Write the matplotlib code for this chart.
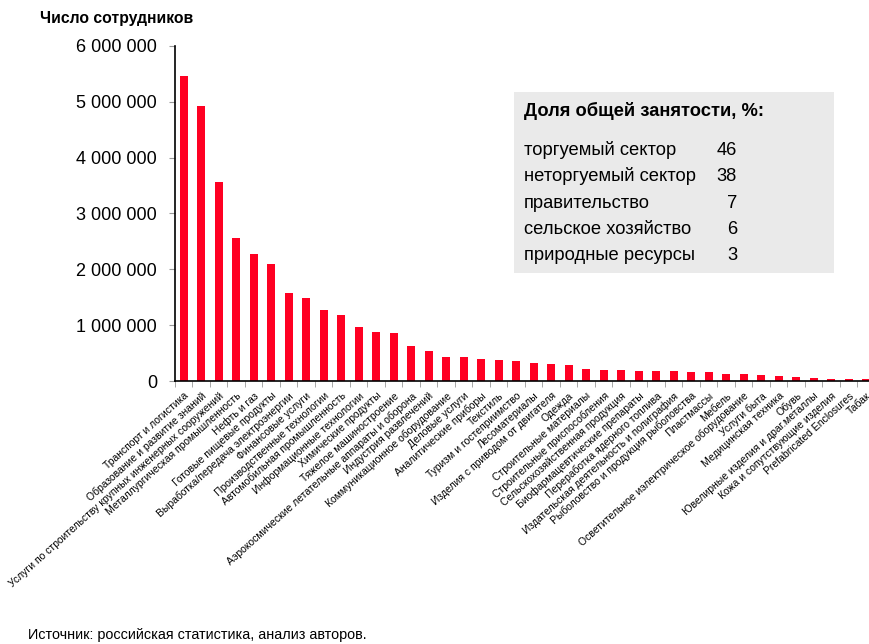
import matplotlib.pyplot as plt
from matplotlib.patches import Rectangle
from matplotlib.ticker import FuncFormatter

plt.rcParams['font.family'] = ['Liberation Sans', 'DejaVu Sans']

categories = [
    "Транспорт и логистика",
    "Образование и развитие знаний",
    "Услуги по строительству крупных инженерных сооружений",
    "Металлургическая промышленность",
    "Нефть и газ",
    "Готовые пищевые продукты",
    "Выработка/передача электроэнергии",
    "Финансовые услуги",
    "Производственные технологии",
    "Автомобильная промышленность",
    "Информационные технологии",
    "Химические продукты",
    "Тяжелое машиностроение",
    "Аэрокосмические летательные аппараты и оборона",
    "Индустрия развлечений",
    "Коммуникационное оборудование",
    "Деловые услуги",
    "Аналитические приборы",
    "Текстиль",
    "Туризм и гостеприимство",
    "Лесоматериалы",
    "Изделия с приводом от двигателя",
    "Одежда",
    "Строительные материалы",
    "Строительные приспособления",
    "Сельскохозяйственная продукция",
    "Биофармацевтические препараты",
    "Переработка ядерного топлива",
    "Издательская деятельность и полиграфия",
    "Рыболовство и продукция рыболовства",
    "Пластмассы",
    "Мебель",
    "Осветительное иэлектрическое оборудование",
    "Услуги быта",
    "Медицинская техника",
    "Обувь",
    "Ювелирные изделия и драг.металлы",
    "Кожа и сопутствующие изделия",
    "Prefabricated Enclosures",
    "Табак",
]

employees = [
    5470000, 4920000, 3570000, 2560000, 2280000, 2090000, 1570000, 1480000,
    1270000, 1180000, 960000, 885000, 855000, 620000, 530000, 430000,
    430000, 400000, 370000, 365000, 320000, 300000, 280000, 210000,
    200000, 190000, 185000, 180000, 175000, 170000, 155000, 125000,
    120000, 115000, 90000, 70000, 55000, 35000, 30000, 30000,
]

share_labels = ["торгуемый сектор", "неторгуемый сектор", "правительство",
                "сельское хозяйство", "природные ресурсы"]
share_values = [46, 38, 7, 6, 3]

fig = plt.figure(figsize=(8.7, 6.44), dpi=100)
ax = fig.add_axes([175 / 870, 1 - 381 / 644, 700 / 870, 335 / 644])

x = list(range(len(categories)))
ax.bar(x, employees, width=0.48, color='#FF0022')

ax.set_xlim(-0.5, 39.3)
ax.set_ylim(0, 6000000)
ax.set_yticks(range(0, 6000001, 1000000))
ax.yaxis.set_major_formatter(FuncFormatter(lambda v, p: f"{int(v):,}".replace(",", " ")))
ax.tick_params(axis='y', labelsize=13, length=4, color='#999999', pad=9)

ax.set_xticks(x)
ax.set_xticklabels(categories, rotation=42, ha='right', rotation_mode='anchor', fontsize=7.5)
ax.tick_params(axis='x', which='major', length=0, pad=7)
ax.set_xticks([i - 0.5 for i in range(len(categories) + 1)], minor=True)
ax.tick_params(axis='x', which='minor', length=4, color='#999999')

for s in ['top', 'right']:
    ax.spines[s].set_visible(False)
ax.spines['left'].set_linewidth(1.2)
ax.spines['bottom'].set_linewidth(1.2)

fig.text(40 / 870, 1 - 19 / 644, "Число сотрудников", fontsize=11.3, fontweight='bold', va='center')
fig.text(28 / 870, 1 - 635 / 644, "Источник: российская статистика, анализ авторов.", fontsize=10.4, va='center')

# box with employment shares
fig.patches.append(Rectangle((514 / 870, 1 - 273 / 644), 320 / 870, 181 / 644,
                             transform=fig.transFigure, facecolor='#EAEAEA', edgecolor='none', zorder=5))
fig.text(524 / 870, 1 - 111 / 644, "Доля общей занятости, %:", fontsize=13.2, fontweight='bold', va='center', zorder=6)
rows_y = [150, 176, 203, 229, 256]
for lbl, val, yy in zip(share_labels, share_values, rows_y):
    fig.text(524 / 870, 1 - yy / 644, lbl, fontsize=13.2, va='center', zorder=6)
    fig.text(737 / 870, 1 - yy / 644, str(val), fontsize=13.2, va='center', ha='right', zorder=6)

fig.savefig('out.png', dpi=100)
